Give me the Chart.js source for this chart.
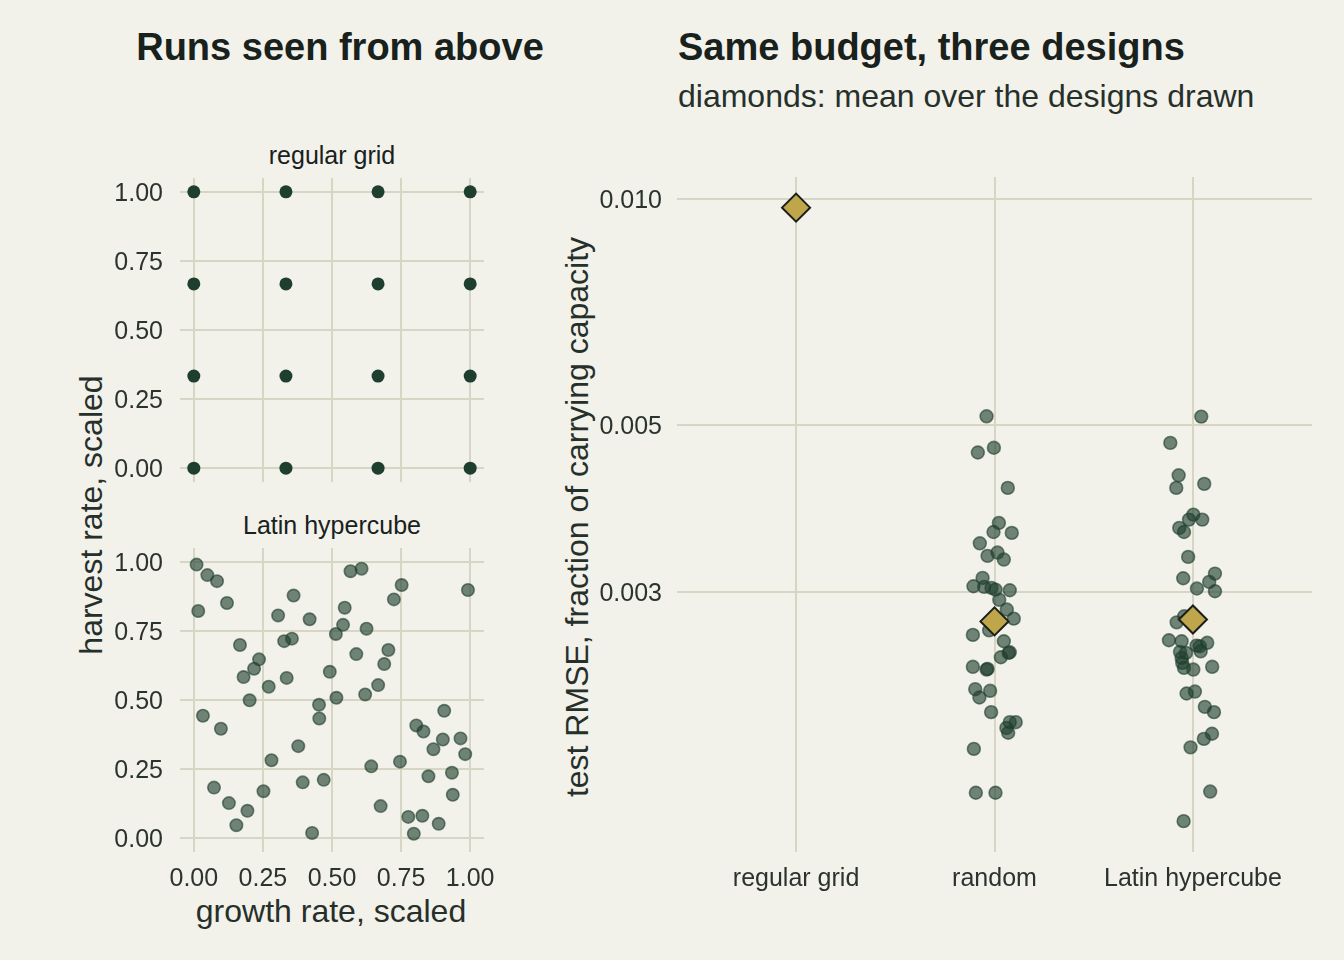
<!DOCTYPE html>
<html><head><meta charset="utf-8">
<script src="https://cdn.jsdelivr.net/npm/chart.js@4.4.1/dist/chart.umd.min.js"></script>
<style>
html,body{margin:0;padding:0;background:#F2F1EA;width:1344px;height:960px;overflow:hidden;font-family:"Liberation Sans",Arial,Helvetica,sans-serif;}
canvas.layer{position:absolute;left:0;top:0;}
.t{position:absolute;white-space:nowrap;color:#18211c;line-height:1;}
.c{transform:translate(-50%,-50%);}
.l{transform:translate(0,-50%);}
.r{transform:translate(-50%,-50%) rotate(-90deg);}
</style></head><body>
<div class="t c" style="font-weight:bold;font-size:38px;left:340px;top:47px">Runs seen from above</div>
<div class="t l" style="font-weight:bold;font-size:38px;left:678px;top:47px">Same budget, three designs</div>
<div class="t l" style="font-size:32px;left:678px;top:96px;color:#26302a">diamonds: mean over the designs drawn</div>
<div class="t c" style="font-size:25px;left:332px;top:155px">regular grid</div>
<div class="t c" style="font-size:25px;left:332px;top:525px">Latin hypercube</div>
<div class="t r" style="font-size:32px;left:91px;top:515px;color:#26302a">harvest rate, scaled</div>
<div class="t c" style="font-size:32px;left:331px;top:911px;color:#26302a">growth rate, scaled</div>
<div class="t r" style="font-size:32px;left:577px;top:517px;color:#26302a">test RMSE, fraction of carrying capacity</div>
<canvas class="layer" id="cGrid" width="1344" height="960"></canvas>
<canvas class="layer" id="cLhs" width="1344" height="960"></canvas>
<canvas class="layer" id="cRmse" width="1344" height="960"></canvas>
<script>
// ---------------- data ----------------
const unitTicks = [0, 0.25, 0.5, 0.75, 1];
const gridGrowth  = [0,0,0,0, 1/3,1/3,1/3,1/3, 2/3,2/3,2/3,2/3, 1,1,1,1];
const gridHarvest = [0,1/3,2/3,1, 0,1/3,2/3,1, 0,1/3,2/3,1, 0,1/3,2/3,1];

const lhsGrowth = [0.010,0.049,0.084,0.016,0.120,0.361,0.305,0.419,0.567,0.607,0.752,0.724,0.992,0.546,0.540,0.514,
  0.625,0.167,0.327,0.355,0.236,0.218,0.180,0.336,0.271,0.202,0.492,0.588,0.704,0.689,0.667,0.620,
  0.516,0.453,0.454,0.033,0.098,0.378,0.281,0.073,0.127,0.194,0.154,0.252,0.394,0.470,0.428,0.642,
  0.746,0.676,0.776,0.827,0.796,0.886,0.849,0.934,0.937,0.805,0.831,0.906,0.867,0.901,0.965,0.982];
const lhsHarvest = [0.990,0.952,0.930,0.822,0.851,0.878,0.806,0.792,0.966,0.975,0.916,0.864,0.898,0.834,0.772,0.739,
  0.758,0.699,0.713,0.722,0.647,0.613,0.583,0.580,0.548,0.499,0.602,0.666,0.681,0.630,0.554,0.520,
  0.508,0.483,0.433,0.443,0.396,0.333,0.282,0.183,0.127,0.099,0.047,0.170,0.202,0.211,0.019,0.260,
  0.277,0.116,0.077,0.081,0.016,0.052,0.224,0.237,0.157,0.408,0.386,0.461,0.322,0.357,0.361,0.304];

const designs = ['regular grid', 'random', 'Latin hypercube'];
const rmseTicks = [0.003, 0.005, 0.010];
const gridRmse = [0.00973];
const gridJitter = [0];
const randomRmse = [0.005135,0.004596,0.004663,0.004124,0.003704,0.003603,0.003593,0.003480,0.003349,0.003383,
  0.003311,0.003130,0.003051,0.003045,0.003036,0.003020,0.003014,0.002927,0.002841,0.002763,
  0.002666,0.002629,0.002578,0.002493,0.002488,0.002455,0.002384,0.002364,0.002369,0.002226,
  0.002215,0.002170,0.002075,0.002012,0.002012,0.001977,0.001948,0.001854,0.001621,0.001621];
const randomJitter = [-0.040,-0.084,-0.003,0.067,0.022,-0.005,0.087,-0.074,-0.035,0.015,
  0.047,-0.060,-0.106,-0.052,-0.015,0.005,0.077,0.024,0.062,0.097,
  -0.027,-0.109,0.047,0.077,0.071,0.032,-0.109,-0.040,-0.035,-0.097,
  -0.022,-0.076,-0.017,0.077,0.107,0.060,0.069,-0.104,-0.094,0.005];
const lhsRmse = [0.005130,0.004733,0.004286,0.004124,0.004175,0.003800,0.003742,0.003742,0.003648,0.003603,
  0.003338,0.003127,0.003172,0.003092,0.003030,0.003005,0.002732,0.002783,0.002586,0.002578,
  0.002544,0.002539,0.002566,0.002496,0.002488,0.002450,0.002500,0.002413,0.002376,0.002364,
  0.002384,0.002197,0.002210,0.002109,0.002075,0.001912,0.001942,0.001863,0.001627,0.001486];
const lhsJitter = [0.042,-0.114,-0.072,-0.084,0.057,0.002,-0.020,0.047,-0.069,-0.045,
  -0.024,-0.049,0.111,0.082,0.020,0.111,-0.082,-0.044,-0.121,-0.057,
  0.018,0.035,0.072,-0.065,-0.035,-0.057,0.039,-0.054,-0.045,0.002,
  0.097,-0.032,0.010,0.060,0.106,0.055,0.096,-0.012,0.087,-0.047];
const meanRmse = [0.00973, 0.00274, 0.002756];

// ---------------- style ----------------
const FONT = '"Liberation Sans", Arial, Helvetica, sans-serif';
const gridColor = '#D7D6C4';
const tickColor = '#2b332e';
const darkGreen = '#1E3F2D';
const softFill = 'rgba(30,63,45,0.62)';
const softEdge = 'rgba(30,63,45,0.62)';
const W = 1344, H = 960;

function pts(xs, ys, off) { return xs.map((x, i) => ({x: (off || 0) + x, y: ys[i]})); }
function fixTicks(vals) { return s => { s.ticks = vals.map(v => ({value: v})); }; }

const base = {
  responsive: false, animation: false, events: [],
  plugins: {legend: {display: false}, tooltip: {enabled: false}},
};

function panel(id, xs, ys, style, top, bottom, showX) {
  return new Chart(document.getElementById(id), {
    type: 'scatter',
    data: {datasets: [Object.assign({data: pts(xs, ys)}, style)]},
    options: Object.assign({}, base, {
      layout: {autoPadding: false, padding: {left: 0, top: top, right: W - 484, bottom: H - bottom - (showX ? 50 : 0)}},
      scales: {
        x: {type: 'linear', min: -0.05, max: 1.05, afterBuildTicks: fixTicks(unitTicks),
            afterFit: s => { s.height = showX ? 50 : 0; },
            grid: {color: gridColor, lineWidth: 2, drawTicks: false}, border: {display: false},
            ticks: {display: showX, padding: 12, color: tickColor, font: {family: FONT, size: 25},
                    callback: v => v.toFixed(2), maxRotation: 0}},
        y: {type: 'linear', min: -0.05, max: 1.05, afterBuildTicks: fixTicks(unitTicks),
            afterFit: s => { s.width = 180; },
            grid: {color: gridColor, lineWidth: 2, drawTicks: false}, border: {display: false},
            ticks: {padding: 17, labelOffset: 2, color: tickColor, font: {family: FONT, size: 25},
                    callback: v => v.toFixed(2)}}
      }
    })
  });
}

panel('cGrid', gridGrowth, gridHarvest,
  {backgroundColor: darkGreen, borderColor: darkGreen, borderWidth: 0, pointRadius: 6.5}, 178, 482, false);
panel('cLhs', lhsGrowth, lhsHarvest,
  {backgroundColor: softFill, borderColor: softEdge, borderWidth: 1.6, pointRadius: 6.2}, 548, 852, true);

const stripStyle = {backgroundColor: softFill, borderColor: softEdge, borderWidth: 1.6, pointRadius: 6.4, order: 2};
new Chart(document.getElementById('cRmse'), {
  type: 'scatter',
  data: {datasets: [
    {data: meanRmse.map((v, i) => ({x: i, y: v})), pointStyle: 'rectRot', pointRadius: 14, order: 0,
     backgroundColor: '#BFA64A', borderColor: '#1b1f1c', borderWidth: 2},
    Object.assign({data: pts(gridJitter, gridRmse, 0)}, stripStyle),
    Object.assign({data: pts(randomJitter, randomRmse, 1)}, stripStyle),
    Object.assign({data: pts(lhsJitter, lhsRmse, 2)}, stripStyle)
  ]},
  options: Object.assign({}, base, {
    layout: {autoPadding: false, padding: {left: 0, top: 177, right: W - 1312, bottom: H - 852 - 50}},
    scales: {
      x: {type: 'linear', min: -0.6, max: 2.6, afterBuildTicks: fixTicks([0, 1, 2]),
          afterFit: s => { s.height = 50; },
          grid: {color: gridColor, lineWidth: 2, drawTicks: false}, border: {display: false},
          ticks: {padding: 12, color: tickColor, font: {family: FONT, size: 25}, maxRotation: 0,
                  callback: v => designs[Math.round(v)]}},
      y: {type: 'logarithmic', bounds: 'data', min: 0.001352, max: 0.010687, afterBuildTicks: fixTicks(rmseTicks),
          afterFit: s => { s.width = 677; },
          grid: {color: gridColor, lineWidth: 2, drawTicks: false}, border: {display: false},
          ticks: {padding: 15, labelOffset: 2, color: tickColor, font: {family: FONT, size: 25},
                  callback: v => v.toFixed(3)}}
    }
  })
});
</script>
</body></html>
